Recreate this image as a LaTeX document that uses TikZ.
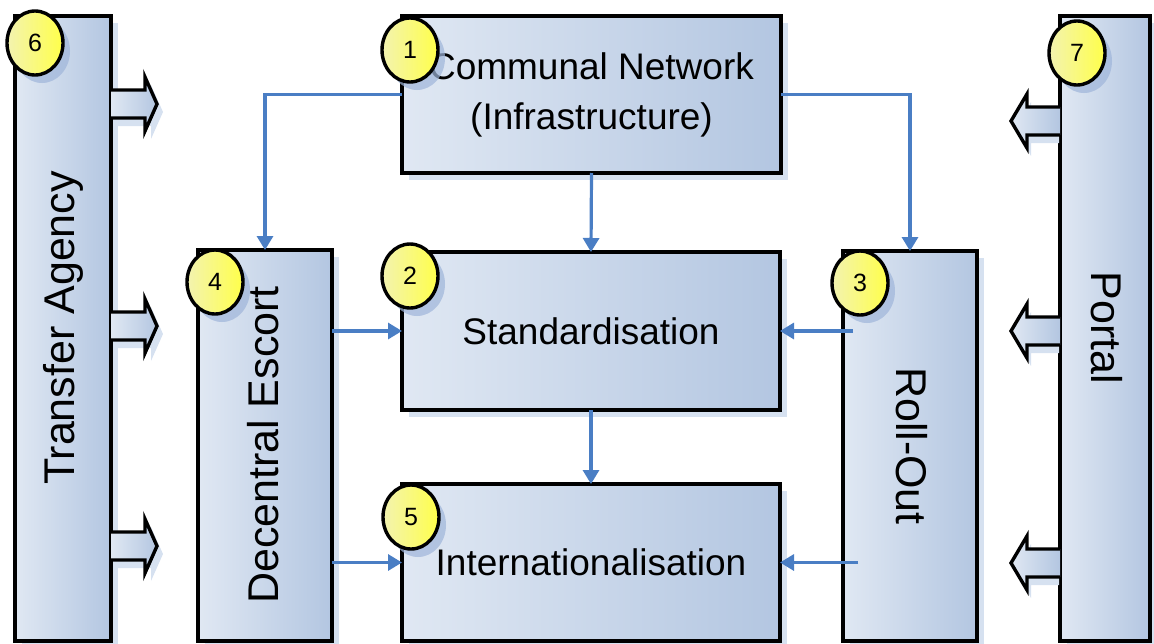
\documentclass[tikz,border=0pt]{standalone}
\usepackage{fontspec}
\setmainfont{Liberation Sans}
\usetikzlibrary{shapes.geometric,shadows,arrows.meta,calc}
\definecolor{boxL}{HTML}{E0E8F3}
\definecolor{boxR}{HTML}{B3C6E1}
\definecolor{linkblue}{HTML}{4A7EC4}
\definecolor{boxshade}{HTML}{D6E1F0}
\definecolor{cirL}{HTML}{F3F3B0}
\definecolor{cirR}{HTML}{FFFF4A}
\definecolor{cirshade}{HTML}{9FB5DA}

\tikzset{
  box/.style={draw=black, line width=4pt, left color=boxL, right color=boxR,
    outer sep=0pt, inner sep=0pt, anchor=north west, align=center,
    font=\fontsize{37}{50}\selectfont,
    drop shadow={shadow xshift=7pt, shadow yshift=-7pt, fill=boxshade, opacity=1}},
  vlabel/.style={font=\fontsize{43}{50}\selectfont, inner sep=0pt},
  badge/.style={ellipse, draw=black, line width=3.4pt, minimum width=56pt, minimum height=64pt,
    inner sep=0pt, left color=cirL, right color=cirR, font=\fontsize{25}{28}\selectfont,
    drop shadow={shadow xshift=7pt, shadow yshift=-8pt, fill=cirshade, opacity=0.7}},
  link/.style={draw=linkblue, line width=3.2pt, -{Triangle[length=14pt,width=16pt]}},
  fat/.style={draw=black, line width=3.4pt, line join=miter, left color=boxL, right color=boxR},
  fatshadow/.style={fill=boxshade},
  % broad outline arrow pointing right, drawn from its tail
  fatR/.pic={
    \fill[fatshadow] (6,-6) -- (40,-6) -- (40,-19) -- (52,8) -- (40,35) -- (40,22) -- (6,22) -- cycle;
    \path[fat] (0,-14) -- (34,-14) -- (34,-27) -- (46,0) -- (34,27) -- (34,14) -- (0,14);
  },
  % broad outline arrow pointing left, drawn from its tail
  fatL/.pic={
    \fill[fatshadow] (-1,-6) -- (-29,-6) -- (-29,-19) -- (-43,8) -- (-29,35) -- (-29,22) -- (-1,22) -- cycle;
    \path[fat] (0,-14) -- (-33,-14) -- (-33,-27) -- (-49,0) -- (-33,27) -- (-33,14) -- (0,14);
  },
}

\begin{document}
\begin{tikzpicture}[x=1pt, y=-1pt]
\useasboundingbox (0,0) rectangle (1154,643);

% main boxes
\node[box, minimum width=96pt,  minimum height=625pt] (ta) at (15,16)   {};
\node[box, minimum width=90pt,  minimum height=625pt] (po) at (1060,16) {};
\node[box, minimum width=379pt, minimum height=157pt] (cn) at (402,16)  {Communal Network\\(Infrastructure)};
\node[box, minimum width=134pt, minimum height=391pt] (de) at (198,250) {};
\node[box, minimum width=378pt, minimum height=158pt] (st) at (402,252) {Standardisation};
\node[box, minimum width=378pt, minimum height=157pt] (in) at (402,484) {Internationalisation};
\node[box, minimum width=134pt, minimum height=390pt] (ro) at (843,251) {};

% vertical captions
\node[vlabel, rotate=90]  (tal) at (63,328)   {Transfer Agency};
\node[vlabel, rotate=90]  (del) at (263,445)  {Decentral Escort};
\node[vlabel, rotate=-90] (rol) at (912,446)  {Roll-Out};
\node[vlabel, rotate=-90] (pol) at (1107,328) {Portal};

% broad arrows leaving the side columns
\pic at (ta.east |- 0,104) {fatR};
\pic at (ta.east |- 0,326) {fatR};
\pic at (ta.east |- 0,546) {fatR};
\pic at (po.west |- 0,121) {fatL};
\pic at (po.west |- 0,331) {fatL};
\pic at (po.west |- 0,563) {fatL};

% flow between the blocks
\coordinate (r1) at ($(ro.west |- st.east)+(10,0)$);
\coordinate (r2) at ($(ro.west |- in.east)+(15,0)$);
\draw[link] (cn.west) -| (de.north);
\draw[link] (cn.east) -| (ro.north);
\draw[link] (cn.south) -- (st.north);
\draw[link] (st.south) -- (in.north);
\draw[link] (de.east |- st.west) -- (st.west);
\draw[link] (de.east |- in.west) -- (in.west);
\draw[link] (r1) -- (st.east);
\draw[link] (r2) -- (in.east);

% numbered badges
\node[badge] (b6) at (35,43)   {6};
\node[badge] (b1) at (410,50)  {1};
\node[badge] (b7) at (1077,53) {7};
\node[badge] (b4) at (215,282) {4};
\node[badge] (b2) at (410,276) {2};
\node[badge] (b3) at (860,283) {3};
\node[badge] (b5) at (411,517) {5};
\end{tikzpicture}
\end{document}
